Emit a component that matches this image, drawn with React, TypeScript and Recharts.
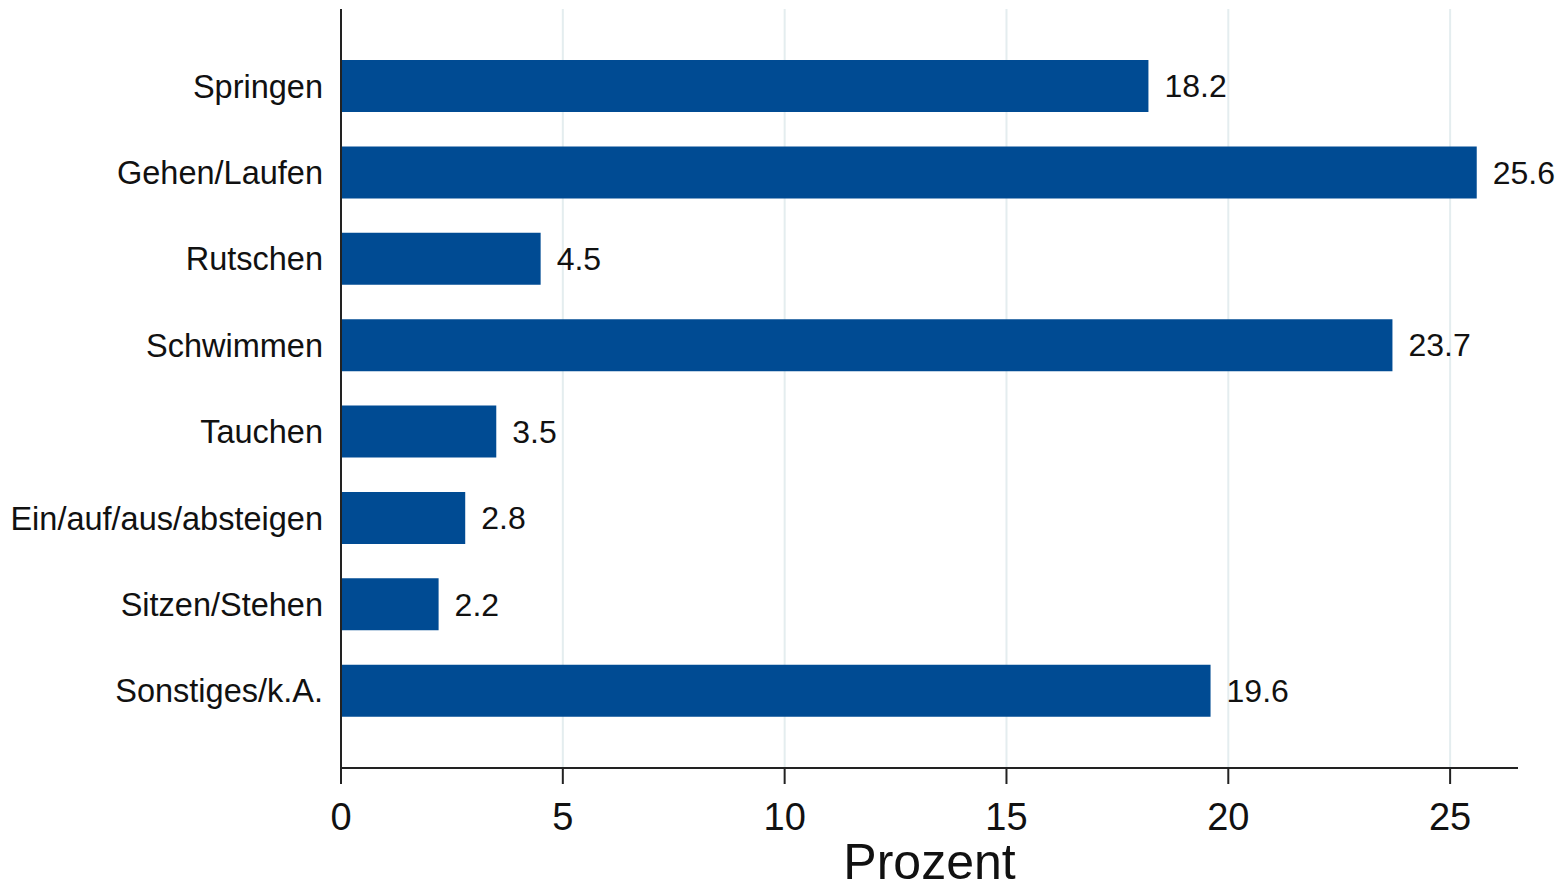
import React from "react";
import { BarChart, Bar, XAxis, YAxis, CartesianGrid, LabelList } from "recharts";

const categories = [
  "Springen",
  "Gehen/Laufen",
  "Rutschen",
  "Schwimmen",
  "Tauchen",
  "Ein/auf/aus/absteigen",
  "Sitzen/Stehen",
  "Sonstiges/k.A.",
];
const values = [18.2, 25.6, 4.5, 23.7, 3.5, 2.8, 2.2, 19.6];
const xTicks = [0, 5, 10, 15, 20, 25];
const xMax = 26.53;

const data = categories.map((name, i) => ({ name, value: values[i] }));

const FONT = "'Liberation Sans', Arial, sans-serif";

export default function App() {
  return (
    <div style={{ position: "absolute", left: 0, top: 0, width: 1564, height: 881, background: "#fff" }}>
      <BarChart
        width={1564}
        height={881}
        data={data}
        layout="vertical"
        margin={{ top: 9, right: 46, bottom: 0, left: 0 }}
      >
        <CartesianGrid
          horizontal={false}
          vertical={true}
          stroke="#e4edef"
          strokeWidth={2}
          verticalCoordinatesGenerator={({ offset }: any) =>
            xTicks.filter((t) => t > 0).map((t) => offset.left + (t / xMax) * offset.width)
          }
        />
        <XAxis
          type="number"
          domain={[0, xMax]}
          ticks={xTicks}
          allowDataOverflow
          height={113}
          stroke="#222"
          strokeWidth={2}
          tickSize={16}
          tickMargin={19}
          tick={{ fill: "#111", fontSize: 38, fontFamily: FONT }}
          label={{
            value: "Prozent",
            position: "insideBottom",
            offset: 2,
            fill: "#111",
            fontSize: 50,
            fontFamily: FONT,
          }}
        />
        <YAxis
          type="category"
          dataKey="name"
          width={341}
          stroke="#222"
          strokeWidth={2}
          tickLine={false}
          tickSize={0}
          tickMargin={18}
          padding={{ top: 34, bottom: 34 }}
          tick={{ fill: "#111", fontSize: 32.5, fontFamily: FONT }}
        />
        <Bar dataKey="value" fill="#004b93" barSize={52} isAnimationActive={false}>
          <LabelList
            dataKey="value"
            position="right"
            offset={16}
            fill="#111"
            fontSize={32}
            fontFamily={FONT}
          />
        </Bar>
      </BarChart>
    </div>
  );
}
